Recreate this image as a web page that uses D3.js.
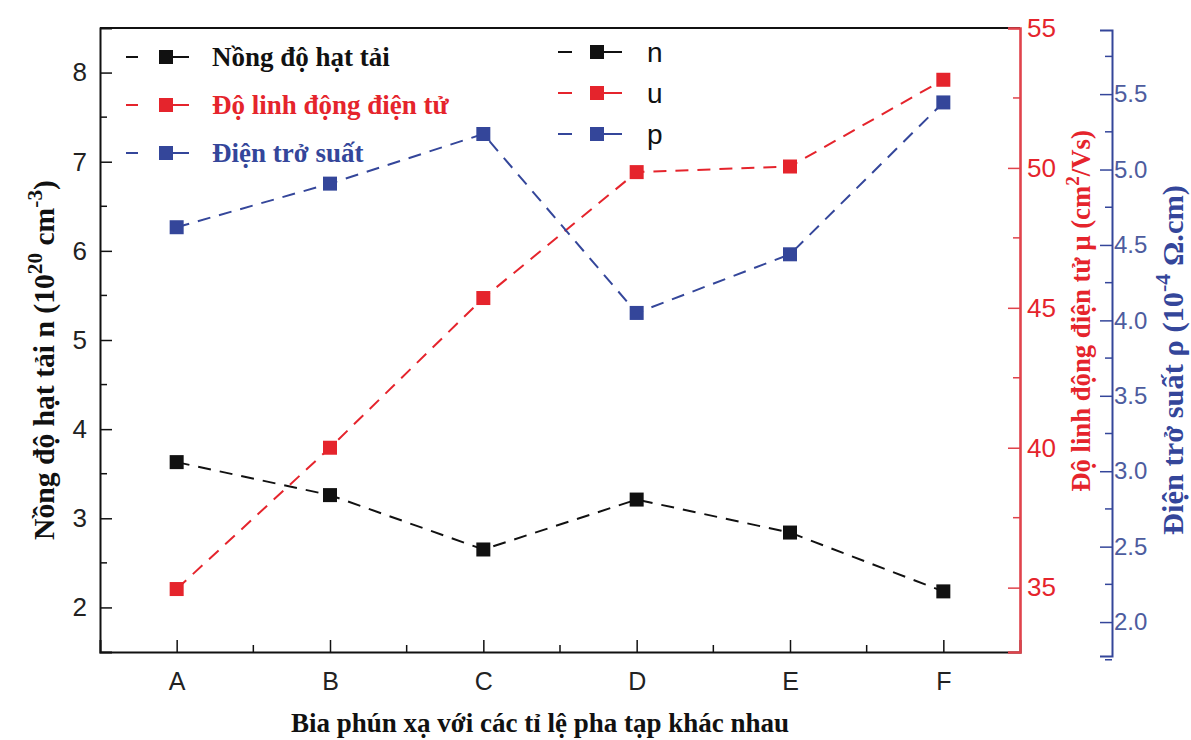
<!DOCTYPE html>
<html>
<head>
<meta charset="utf-8">
<script src="https://cdn.jsdelivr.net/npm/d3@7"></script>
<style>
  body { margin: 0; background: #fff; }
  svg { display: block; }
</style>
</head>
<body>
<svg width="1191" height="740"></svg>
<script>
// data
const categories = ['A', 'B', 'C', 'D', 'E', 'F']
const nValues = [3.63, 3.26, 2.65, 3.21, 2.84, 2.18]          // 10^20 cm^-3
const muValues = [34.95, 40.0, 45.35, 49.85, 50.05, 53.15]    // cm2/Vs
const rhoValues = [4.60, 4.89, 5.22, 4.03, 4.42, 5.43]        // 10^-4 ohm.cm
const leftTicks = [2, 3, 4, 5, 6, 7, 8]
const redTicks = [35, 40, 45, 50, 55]
const blueTicks = [2.0, 2.5, 3.0, 3.5, 4.0, 4.5, 5.0, 5.5]
const legendNames = ['Nồng độ hạt tải', 'Độ linh động điện tử', 'Điện trở suất']
const legendKeys = ['n', 'u', 'p']

const black = '#111', red = '#e5242c', blue = '#34469a'
const serif = '"Liberation Serif", "Times New Roman", serif'
const sans = '"Liberation Sans", Arial, sans-serif'

const plotLeft = 100, plotRight = 1020, plotTop = 28, plotBottom = 652
const blueX = 1112

const svg = d3.select('svg')

const x = d3.scalePoint().domain(categories).range([plotLeft, plotRight]).padding(0.5)
const yN = d3.scaleLinear().domain([1.5, 8.5]).range([plotBottom, plotTop])
const yMu = d3.scaleLinear().domain([32.7, 55]).range([plotBottom, plotTop])
const yRho = d3.scaleLinear().domain([1.775, 5.925]).range([plotBottom, plotTop])

// frame top line
svg.append('line')
    .attr('x1', plotLeft).attr('x2', plotRight).attr('y1', plotTop).attr('y2', plotTop)
    .attr('stroke', black).attr('stroke-width', 2)

// left axis
const gl = svg.append('g').attr('transform', `translate(${plotLeft},0)`)
gl.call(d3.axisRight(yN).tickValues(leftTicks).tickSize(12).tickFormat(d3.format('d')))
gl.call(g => g.selectAll('.tick text').attr('x', -13).attr('text-anchor', 'end'))
gl.selectAll('.minor').data(d3.range(2.5, 8.5, 1)).enter().append('line')
    .attr('x1', 0).attr('x2', 7).attr('y1', yN).attr('y2', yN)
    .attr('stroke', black).attr('stroke-width', 1.5)

// bottom axis
const gb = svg.append('g').attr('transform', `translate(0,${plotBottom})`)
gb.call(d3.axisTop(x).tickSize(12))
gb.call(g => g.selectAll('.tick text').attr('y', 29).attr('dy', '0.35em'))
gb.selectAll('.minor').data(categories.slice(1)).enter().append('line')
    .attr('x1', d => x(d) - x.step() / 2).attr('x2', d => x(d) - x.step() / 2)
    .attr('y1', 0).attr('y2', -7)
    .attr('stroke', black).attr('stroke-width', 1.5)

// red axis
const gr = svg.append('g').attr('transform', `translate(${plotRight},0)`)
gr.call(d3.axisLeft(yMu).tickValues(redTicks).tickSize(12))
gr.call(g => g.selectAll('.tick text').attr('x', 7).attr('text-anchor', 'start'))
gr.selectAll('.minor').data([37.5, 42.5, 47.5, 52.5]).enter().append('line')
    .attr('x1', 0).attr('x2', -7).attr('y1', yMu).attr('y2', yMu)
    .attr('stroke', '#e0434b').attr('stroke-width', 1.5)

// blue axis
const yRhoAxis = yRho.copy().range([plotBottom + 4, plotTop + 2])
const gbl = svg.append('g').attr('transform', `translate(${blueX},0)`)
gbl.call(d3.axisLeft(yRhoAxis).tickValues(blueTicks).tickSize(12).tickFormat(d3.format('.1f')))
gbl.call(g => g.selectAll('.tick text').attr('x', 2).attr('text-anchor', 'start'))
gbl.selectAll('.minor').data([1.75, 2.25, 2.75, 3.25, 3.75, 4.25, 4.75, 5.25, 5.75]).enter().append('line')
    .attr('x1', 0).attr('x2', -7).attr('y1', yRhoAxis).attr('y2', yRhoAxis)
    .attr('stroke', blue).attr('stroke-width', 1.5)

// axis styling
;[[gl, black, '#222', 26, 2], [gb, black, '#222', 25, 2], [gr, '#e0434b', red, 26, 2.6], [gbl, blue, '#4d5c9e', 24, 2]].forEach(([g, c, tc, fs, w]) => {
    g.select('.domain').attr('stroke', c).attr('stroke-width', w)
    g.selectAll('.tick line').attr('stroke', c).attr('stroke-width', 1.5)
    g.selectAll('.tick text').attr('fill', tc).attr('font-family', sans).attr('font-size', fs)
})

// series
const series = [
    { key: 'n', values: nValues, y: yN, color: black },
    { key: 'u', values: muValues, y: yMu, color: red },
    { key: 'p', values: rhoValues, y: yRho, color: blue }
]
series.forEach(s => {
    const line = d3.line().x((d, i) => x(categories[i])).y(d => s.y(d))
    svg.append('path')
        .attr('d', line(s.values))
        .attr('fill', 'none').attr('stroke', s.color).attr('stroke-width', 2)
        .attr('stroke-dasharray', '13,9')
    svg.selectAll(null).data(s.values).enter().append('rect')
        .attr('x', (d, i) => x(categories[i]) - 7).attr('y', d => s.y(d) - 7)
        .attr('width', 14).attr('height', 14).attr('fill', s.color)
})

// legend 1
legendNames.forEach((name, i) => {
    const s = series[i]
    const g = svg.append('g').attr('transform', `translate(0,${57 + i * 48})`)
    g.append('line').attr('x1', 126).attr('x2', 138).attr('stroke', s.color).attr('stroke-width', 2)
    g.append('line').attr('x1', 172).attr('x2', 189).attr('stroke', s.color).attr('stroke-width', 2)
    g.append('rect').attr('x', 159).attr('y', -7).attr('width', 14).attr('height', 14).attr('fill', s.color)
    g.append('text').attr('x', 212).attr('dy', '0.35em').text(name)
        .attr('font-family', serif).attr('font-weight', 'bold').attr('font-size', 27)
        .attr('fill', s.color)
})

// legend 2
legendKeys.forEach((k, i) => {
    const s = series[i]
    const g = svg.append('g').attr('transform', `translate(0,${52 + i * 41})`)
    g.append('line').attr('x1', 558).attr('x2', 572).attr('stroke', s.color).attr('stroke-width', 2)
    g.append('line').attr('x1', 603).attr('x2', 622).attr('stroke', s.color).attr('stroke-width', 2)
    g.append('rect').attr('x', 590).attr('y', -7).attr('width', 14).attr('height', 14).attr('fill', s.color)
    g.append('text').attr('x', 647).attr('dy', '0.35em').text(k)
        .attr('font-family', sans).attr('font-size', 28).attr('fill', '#111')
})

// rotated axis titles, sized to the length they have in the picture
function rotTitle(cx, cy, parts, color, targetLen) {
    const t = svg.append('text')
        .attr('transform', `translate(${cx},${cy}) rotate(-90)`)
        .attr('text-anchor', 'middle')
        .attr('font-family', serif).attr('font-weight', 'bold')
        .attr('fill', color)
    const build = fs => {
        t.selectAll('tspan').remove()
        t.attr('font-size', fs)
        parts.forEach(([str, sup]) => {
            t.append('tspan').text(str)
                .attr('dy', sup === 1 ? -0.42 * fs : sup === -1 ? 0.42 * fs : 0)
                .attr('font-size', sup === 1 ? 0.72 * fs : fs)
        })
    }
    build(20)
    const len = t.node().getComputedTextLength()
    build(20 * targetLen / len)
}
rotTitle(54, 360, [['Nồng độ hạt tải n (10', 0], ['20', 1], [' cm', -1], ['-3', 1], [')', -1]], black, 360)
rotTitle(1090, 311, [['Độ linh động điện tử  µ (cm', 0], ['2', 1], ['/Vs)', -1]], red, 362)
rotTitle(1183, 360, [['Điện trở suất ρ (10', 0], ['-4', 1], [' Ω.cm)', -1]], blue, 350)

svg.append('text')
    .attr('x', 540).attr('y', 732)
    .attr('text-anchor', 'middle')
    .attr('font-family', serif).attr('font-weight', 'bold').attr('font-size', 27)
    .attr('fill', black)
    .text('Bia phún xạ với các tỉ lệ pha tạp khác nhau')
</script>
</body>
</html>
